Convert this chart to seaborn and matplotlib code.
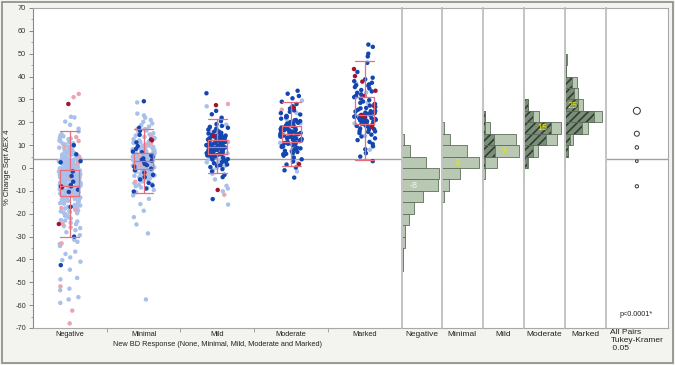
import numpy as np
import pandas as pd
import matplotlib.pyplot as plt
import seaborn as sns
from matplotlib.patches import Rectangle

groups = ["Negative", "Minimal", "Mild", "Moderate", "Marked"]

# % change values, split by point colour
neg_light = [22.4, 22.1, 20.3, 18.9, 17.2, 16.0, 14.8, 13.9, 13.3, 12.6, 12.1, 11.4, 10.8, 10.3,
             9.7, 9.2, 8.9, 8.4, 7.9, 7.6, 7.1, 6.7, 6.3, 5.9, 5.6, 5.2,
             4.8, 4.6, 4.3, 4.1, 3.9, 3.6, 3.4, 3.1, 2.9, 2.7, 2.4, 2.2, 2.0, 1.8, 1.5, 1.3, 1.1, 0.9,
             0.7, 0.5, 0.3, 0.1, 4.4, 3.3, 2.5, 1.7, 0.6,
             -0.1, -0.3, -0.5, -0.6, -0.8, -1.0, -1.2, -1.3, -1.5, -1.7, -1.9, -2.0, -2.2, -2.4, -2.5,
             -2.7, -2.9, -3.0, -3.2, -3.4, -3.5, -3.7, -3.9, -4.0, -4.2, -4.4, -4.5, -4.7, -4.9, -0.4,
             -1.1, -1.6, -2.3, -2.8, -3.3, -3.8, -4.3, -4.8, -0.9, -2.6, -3.6, -4.1,
             -5.1, -5.3, -5.4, -5.6, -5.8, -5.9, -6.1, -6.3, -6.5, -6.6, -6.8, -7.0, -7.2, -7.3, -7.5,
             -7.7, -7.9, -8.0, -8.2, -8.4, -8.6, -8.7, -8.9, -9.1, -9.3, -9.4, -9.6, -9.8, -9.9, -5.5,
             -6.0, -6.7, -7.4, -8.1, -8.8, -9.5, -6.2, -7.6, -8.5, -9.2,
             -10.1, -10.4, -10.6, -10.9, -11.2, -11.4, -11.7, -12.0, -12.2, -12.5, -12.8, -13.0, -13.3,
             -13.6, -13.8, -14.1, -14.4, -14.7, -14.9, -10.8, -11.9, -12.9, -13.9,
             -15.2, -15.6, -16.0, -16.4, -16.9, -17.3, -17.7, -18.1, -18.6, -19.0, -19.5, -19.8, -16.6,
             -20.3, -20.9, -21.5, -22.1, -22.8, -23.4, -24.0, -24.6,
             -25.4, -26.3, -27.2, -28.1, -29.4, -31.4, -32.3, -33.2, -34.1,
             -36.6, -37.6, -39.1, -40.3, -41.0, -44.5, -48.1, -48.7, -52.8, -53.5, -56.5, -57.5, -59.0,
             14.2, 12.9, 11.7, 10.6, 9.4, 8.6, 7.8, 7.3, 6.5, 6.1, 5.4, 5.0,
             4.95, 4.5, 4.2, 3.8, 3.5, 3.0, 2.6, 2.3, 1.9, 1.4, 1.0, 0.8, 0.4, 0.2,
             -0.2, -0.7, -1.4, -1.8, -2.1, -2.45, -3.1, -3.45, -3.65, -4.15, -4.6, -4.85, -0.35,
             -1.25, -2.75, -3.15, -4.35, -1.55,
             -5.2, -5.7, -6.4, -6.9, -7.1, -7.8, -8.3, -8.75, -9.0, -9.7, -5.45, -6.15, -6.85,
             -7.35, -8.05, -8.65, -9.35, -9.85,
             -10.3, -11.0, -11.5, -12.3, -12.7, -13.2, -13.7, -14.3, -14.6, -10.2,
             -15.4, -16.2, -17.0, -17.9, -18.8, -19.3, -21.2, -23.0]
neg_pink = [32.4, 31.0, 13.5, 11.8, 9.0, 5.0, 2.0, -4.0, -11.0, -17.5, -18.5, -24.5, -26.0, -33.0,
            -51.8, -62.4, -68.0]
neg_dark = [10.0, 6.0, 3.0, 2.5, -1.5, -3.5, -6.0, -7.5, -8.0, -9.5, -10.5, -17.0, -30.0, -42.5]
neg_red = [28.0, -8.0, -8.5, -24.5]

min_light = [28.7, 23.8, 23.0, 22.0, 21.0, 20.2, 19.5, 18.8, 18.1, 17.0, 16.4, 15.8, 15.2,
             14.7, 14.2, 13.6, 13.1, 12.6, 12.1, 11.6, 11.0, 10.5, 10.1,
             9.8, 9.5, 9.2, 8.9, 8.6, 8.3, 8.0, 7.7, 7.4, 7.1, 6.8, 6.5, 6.2, 5.9, 5.6, 5.3, 5.1,
             9.0, 8.1, 7.3, 6.6, 5.8, 7.9, 6.0,
             4.9, 4.7, 4.5, 4.3, 4.1, 3.9, 3.7, 3.5, 3.3, 3.1, 2.9, 2.7, 2.5, 2.3, 2.1, 1.9, 1.7, 1.5,
             1.3, 1.1, 0.9, 0.7, 0.5, 0.3, 0.1, 4.6, 4.0, 3.4, 2.8, 2.2, 1.6, 1.0, 0.4, 3.8, 2.0, 0.8,
             -0.2, -0.5, -0.8, -1.1, -1.4, -1.7, -2.0, -2.3, -2.6, -2.9, -3.2, -3.5, -3.8, -4.1, -4.4,
             -4.7, -1.9, -5.3, -5.9, -6.6, -7.3, -8.0, -8.8, -9.6, -10.6, -12.0, -13.5,
             -15.8, -18.7, -21.5, -24.7, -28.6, -57.5,
             14.0, 12.8, 11.3, 10.3, 9.65, 9.1, 8.45, 7.85, 7.15, 6.35, 5.75, 5.45, 8.75, 6.95,
             4.85, 4.35, 3.95, 3.55, 3.25, 2.75, 2.35, 1.85, 1.45, 1.15, 0.65, 0.25, 4.15, 2.95,
             -0.4, -0.9, -1.6, -2.2, -2.8, -3.4, -4.0, -4.6, -5.6, -7.0, -8.5, 16.8]
min_pink = [17.0, 13.8, 10.8, 9.9, 5.0, 1.4, -2.5, -6.0]
min_dark = [29.2, 17.6, 16.3, 14.5, 12.5, 11.2, 9.6, 8.4, 7.2, 6.9, 5.5, 4.8, 4.2, 3.6, 3.2,
            2.6, 1.8, 1.2, 0.6, -0.3, -1.0, -2.0, -3.0, -4.0, -5.0, -6.5, -7.6, -9.0, -10.3]
min_red = [12.1]

mild_light = [27.0, 21.5, 19.0, 17.5, 15.0, 13.5, 12.4, 11.6, 10.4, 9.5, 8.7, 8.1, 7.3, 6.7, 6.0,
              5.4, 4.8, 4.0, 3.2, 2.5, 1.8, 0.9, 0.0, -1.0, -2.5, -5.0, -7.8, -9.0, -10.2, -16.0,
              13.0, 11.0, 9.0, 7.0, 5.0, 3.7, 2.0, 15.7, 6.4, 10.0]
mild_pink = [28.0, 16.5, 11.4, 8.0, -11.7]
mild_dark = [32.7, 25.0, 23.5, 22.0, 20.5, 19.2, 18.4, 17.6, 16.8, 16.0, 15.4, 14.8, 14.5, 14.2,
             13.9, 13.6, 13.3, 13.0, 12.7, 12.4, 12.1, 11.8, 11.5, 11.2, 10.9, 10.6, 10.3, 10.0,
             9.8, 9.6, 9.3, 9.0, 8.8, 8.5, 8.2, 7.9, 7.7, 7.4, 7.1, 6.8, 6.5, 6.3, 6.0, 5.7, 5.5,
             5.2, 4.9, 4.6, 4.3, 3.9, 3.5, 3.0, 2.6, 2.1, 1.5, 1.0, 0.4, -0.5, -1.5, -3.0, -4.0,
             -13.6, 14.0, 12.9, 11.0, 9.9, 8.6, 7.6, 6.6, 12.2, 10.8, 9.1,
             15.9, 15.1, 14.35, 13.75, 13.15, 12.55, 11.95, 11.35, 10.75, 10.15, 9.45, 8.95,
             8.35, 7.8, 7.25, 6.7, 6.15, 5.6, 5.05, 4.45, 3.7, 2.85, 17.2, 18.0, 1.2]
mild_red = [27.5, 14.0, -9.6]

mod_light = [29.5, 24.0, 21.5, 19.5, 17.8, 16.0, 14.2, 12.5, 11.0, 9.2, 7.5, 6.0, 3.5, 2.0, -1.5]
mod_pink = [25.5]
mod_dark = [33.8, 32.5, 31.5, 30.5, 29.0, 28.0, 27.0, 26.0, 25.2, 24.6, 24.0, 23.4, 22.8, 22.2,
            21.6, 21.0, 20.5, 20.1, 19.8, 19.5, 19.2, 18.9, 18.6, 18.3, 18.0, 17.7, 17.4, 17.1,
            16.8, 16.5, 16.2, 15.9, 15.6, 15.3, 15.0, 14.8, 14.5, 14.2, 13.9, 13.6, 13.3, 13.0,
            12.7, 12.4, 12.1, 11.8, 11.5, 11.2, 10.9, 10.6, 10.3, 10.0, 9.6, 9.2, 8.8, 8.4, 8.0,
            7.5, 7.0, 6.5, 6.0, 5.4, 4.6, 3.8, 2.8, 1.5, 0.2, -1.0, -4.2, 19.0, 17.0, 16.0, 14.0,
            12.0, 11.0, 22.5, 13.4, 18.1,
            20.8, 19.65, 18.45, 17.55, 16.65, 15.75, 14.65, 13.75, 12.85, 11.95, 10.45, 9.4,
            8.6, 7.2, 6.2]
mod_red = [26.4, 1.7]

mark_light = [37.0, 33.0, 28.5, 24.0, 19.5, 14.0, 8.0]
mark_dark = [54.0, 53.0, 50.0, 48.8, 46.0, 42.0, 39.5, 38.8, 38.0, 37.3, 36.6, 36.0, 35.4, 34.8,
             34.1, 33.5, 32.9, 32.2, 31.6, 31.0, 30.4, 29.7, 29.1, 28.5, 27.9, 27.3, 26.7, 26.1,
             25.5, 25.0, 24.7, 24.4, 24.1, 23.8, 23.5, 23.2, 22.9, 22.6, 22.3, 22.0, 21.7, 21.4,
             21.1, 20.8, 20.5, 20.2, 19.8, 19.4, 19.0, 18.6, 18.2, 17.8, 17.3, 16.8, 16.3, 15.8,
             15.3, 14.6, 13.8, 13.0, 12.2, 11.4, 10.5, 9.5, 8.2, 6.5, 5.0, 3.0, 23.0, 21.9, 20.0,
             17.0, 26.3, 31.3, 36.2,
             24.85, 24.25, 23.65, 23.05, 22.45, 21.85, 21.25, 20.65, 19.6, 18.4, 16.0, 28.0]
mark_red = [43.3, 40.2, 37.8, 33.8, 31.5, 27.0, 23.2, 22.5, 18.0]

# box plot summaries
box_q1 = [-12.2, -0.6, 6.0, 11.5, 19.2]
box_med = [-8.0, 3.0, 9.0, 15.0, 23.0]
box_q3 = [-1.0, 6.4, 12.2, 18.5, 30.9]
whisk_lo = [-30.0, -10.8, -2.3, 1.0, 3.4]
whisk_hi = [16.3, 17.2, 21.4, 28.9, 46.8]
grand_mean = 4.0

# side histograms (5-unit bins, lower edges) - bar lengths as read
bin_lo = [50, 45, 40, 35, 30, 25, 20, 15, 10, 5, 0, -5, -10, -15, -20, -25, -30, -35, -40, -45,
          -50, -55, -60, -65, -70]
neg_hist = [0, 0, 0, 0, 0.6, 0.4, 0.6, 0.6, 2.3, 8, 24, 37, 36, 21, 12, 7, 3.7, 3, 1, 1,
            0.5, 0.5, 0.5, 0.5, 0.4]
min_hist = [0, 0, 0, 0, 0, 0.5, 0.6, 2, 8, 25, 37, 18, 7, 2, 0.5, 0.5, 0.5, 0, 0, 0,
            0, 0, 0.5, 0, 0]
mild_hist = [0, 0, 0, 0, 0.5, 0.7, 2.7, 7.7, 33, 36, 14, 2.3, 0.5, 0.5, 0, 0, 0, 0, 0, 0,
             0, 0, 0, 0, 0]
mild_hatch = [0, 0, 0, 0, 0.5, 0.7, 2.0, 2.0, 11.7, 12, 2.3, 0, 0, 0, 0, 0, 0, 0, 0, 0,
              0, 0, 0, 0, 0]
mod_hist = [0, 0, 0, 0, 0.7, 4, 15, 37, 33, 14.7, 4, 0.7, 0, 0, 0, 0, 0, 0, 0, 0,
            0, 0, 0, 0, 0]
mod_hatch = [0, 0, 0, 0, 0.7, 4, 9.7, 27.3, 22, 9.7, 3, 0.7, 0, 0, 0, 0, 0, 0, 0, 0,
             0, 0, 0, 0, 0]
mark_hist = [0.7, 2, 1, 12, 13.7, 18, 37, 23, 8, 3.7, 0.7, 0, 0, 0, 0, 0, 0, 0, 0, 0,
             0, 0, 0, 0, 0]
mark_hatch = [0.7, 1.5, 1, 7.7, 9.7, 13, 29.7, 17, 5.3, 3, 0.7, 0, 0, 0, 0, 0, 0, 0, 0, 0,
              0, 0, 0, 0, 0]
group_means = [-8, 3, 9, 15, 25]
circle_px = [3.3, 2.7, 3.5, 5.0, 7.0]

kinds = ["light", "pink", "dark", "red"]
kind_colors = {"light": "#a8c0ea", "pink": "#eaa5b0", "dark": "#1446b0", "red": "#a3142c"}
point_lists = {
    ("Negative", "light"): neg_light, ("Negative", "pink"): neg_pink,
    ("Negative", "dark"): neg_dark, ("Negative", "red"): neg_red,
    ("Minimal", "light"): min_light, ("Minimal", "pink"): min_pink,
    ("Minimal", "dark"): min_dark, ("Minimal", "red"): min_red,
    ("Mild", "light"): mild_light, ("Mild", "pink"): mild_pink,
    ("Mild", "dark"): mild_dark, ("Mild", "red"): mild_red,
    ("Moderate", "light"): mod_light, ("Moderate", "pink"): mod_pink,
    ("Moderate", "dark"): mod_dark, ("Moderate", "red"): mod_red,
    ("Marked", "light"): mark_light, ("Marked", "dark"): mark_dark,
    ("Marked", "red"): mark_red,
}
rows = []
for (g, k), vals in point_lists.items():
    rows += [(g, k, v) for v in vals]
df = pd.DataFrame(rows, columns=["group", "kind", "value"])

sns.set_style("white")
plt.rcParams["font.family"] = ["Liberation Sans", "DejaVu Sans"]
plt.rcParams["axes.unicode_minus"] = False
plt.rcParams["hatch.linewidth"] = 1.2
np.random.seed(3)

W, H = 675, 365
fig = plt.figure(figsize=(6.75, 3.65), dpi=100, facecolor="#f3f3ef")


def place(x0, x1, y0=8, y1=328):
    return [x0 / W, 1 - y1 / H, (x1 - x0) / W, (y1 - y0) / H]


fig.patches.append(Rectangle((2 / W, 2 / H), 671 / W, 361 / H, transform=fig.transFigure,
                             fill=False, edgecolor="#8a8a8a", lw=1.2))

# main scatter + box plots
ax = fig.add_axes(place(33, 401.7))
ax.axhline(grand_mean, color="#a0a0a0", lw=1, zorder=1)
sns.stripplot(data=df, x="group", y="value", hue="kind", order=groups, hue_order=kinds,
              palette=kind_colors, jitter=0.15, size=3.2, linewidth=0, legend=False,
              ax=ax, zorder=2)
stats = [dict(med=m, q1=a, q3=b, whislo=lo, whishi=hi)
         for m, a, b, lo, hi in zip(box_med, box_q1, box_q3, whisk_lo, whisk_hi)]
box_col = "#e66f7e"
line = dict(color=box_col, lw=0.9)
ax.bxp(stats, positions=range(5), widths=0.26, capwidths=0.26, showfliers=False,
       boxprops=line, whiskerprops=line, capprops=line, medianprops=line,
       manage_ticks=False, zorder=4)
ax.set_xlim(-0.5, 4.5)
ax.set_ylim(-70, 70)
ax.set_yticks(range(-70, 71, 10))
ax.set_yticks(range(-65, 70, 10), minor=True)
ax.set_xticks([0.5, 1.5, 2.5, 3.5], minor=True)
ax.tick_params(axis="y", which="major", labelsize=5.3, length=3, width=0.6, color="#777",
               pad=2, labelcolor="#333", left=True)
ax.tick_params(axis="y", which="minor", length=1.5, width=0.5, color="#888", left=True)
ax.tick_params(axis="x", which="major", labelsize=5.3, length=0, pad=2, labelcolor="#222")
ax.tick_params(axis="x", which="minor", length=3, width=0.6, color="#999", bottom=True)
ax.set_xlabel("")
ax.set_ylabel("")
ax.set_facecolor("white")
for s in ["top", "bottom"]:
    ax.spines[s].set_color("#a8a8a8")
ax.spines["left"].set_color("#8a8a8a")
ax.spines["right"].set_visible(False)

# side histograms
hist_x = [401.7, 441.7, 482.7, 523.5, 564.6, 605.7]
hist_counts = [neg_hist, min_hist, mild_hist, mod_hist, mark_hist]
hist_hatch = [None, None, mild_hatch, mod_hatch, mark_hatch]
label_x = [12, 15.5, 21.5, 18.5, 7.5]
label_col = ["#f4f4f4", "#ece400", "#ece400", "#ece400", "#ece400"]
bar_face, bar_edge = "#b8c8b3", "#5c6e5a"
for i in range(5):
    axh = fig.add_axes(place(hist_x[i], hist_x[i + 1]))
    ys = [b + 2.5 for b, c in zip(bin_lo, hist_counts[i]) if c > 0]
    ws = [c for c in hist_counts[i] if c > 0]
    axh.barh(ys, ws, height=5, left=0, color=bar_face, edgecolor=bar_edge, lw=0.6)
    if hist_hatch[i] is not None:
        hy = [b + 2.5 for b, c in zip(bin_lo, hist_hatch[i]) if c > 0]
        hw = [c for c in hist_hatch[i] if c > 0]
        axh.barh(hy, hw, height=5, left=0, color="#7c8e79", edgecolor="#2f3f30",
                 hatch="////", lw=0)
        axh.barh(hy, hw, height=5, left=0, fill=False, edgecolor=bar_edge, lw=0.6)
    m = group_means[i]
    axh.text(label_x[i], (m // 5) * 5 + 2.5, str(m), color=label_col[i], fontsize=6.5,
             ha="center", va="center")
    axh.set_xlim(0, hist_x[i + 1] - hist_x[i])
    axh.set_ylim(-70, 70)
    axh.set_xticks([])
    axh.set_yticks([])
    axh.set_facecolor("white")
    for s in ["top", "bottom"]:
        axh.spines[s].set_color("#a8a8a8")
    axh.spines["left"].set_color("#c4c4c4")
    axh.spines["left"].set_linewidth(1.4)
    axh.spines["right"].set_visible(False)
    fig.text((hist_x[i] + hist_x[i + 1]) / 2 / W, 1 - 334 / H, groups[i], fontsize=6,
             ha="center", va="center", color="#222")

# comparison circles
axp = fig.add_axes(place(605.7, 668))
axp.axhline(grand_mean, color="#a0a0a0", lw=1, zorder=1)
axp.scatter([0] * 5, group_means, s=[(d * 0.72) ** 2 for d in circle_px], facecolor="white",
            edgecolor="#333333", lw=0.7, zorder=3)
axp.set_xlim(-1, 1)
axp.set_ylim(-70, 70)
axp.set_xticks([])
axp.set_yticks([])
axp.set_facecolor("white")
for s in ["top", "bottom", "right"]:
    axp.spines[s].set_color("#a8a8a8")
axp.spines["left"].set_color("#c4c4c4")
axp.spines["left"].set_linewidth(1.4)

fig.text(636.5 / W, 1 - 315 / H, "p<0.0001*", fontsize=5.2, ha="center", va="center",
         color="#222")
fig.text(610.5 / W, 1 - 329.5 / H, "All Pairs\nTukey-Kramer\n 0.05", fontsize=6, ha="left",
         va="top", linespacing=1.15, color="#222")
fig.text(217.4 / W, 1 - 345 / H, "New BD Response (None, Minimal, Mild, Moderate and Marked)",
         fontsize=5.3, ha="center", va="center", color="#222")
fig.text(8 / W, 1 - 167 / H, "% Change Sqrt AEX 4", rotation=90, fontsize=5.5, ha="center",
         va="center", color="#222")

fig.savefig("out.png", dpi=100, facecolor=fig.get_facecolor())
